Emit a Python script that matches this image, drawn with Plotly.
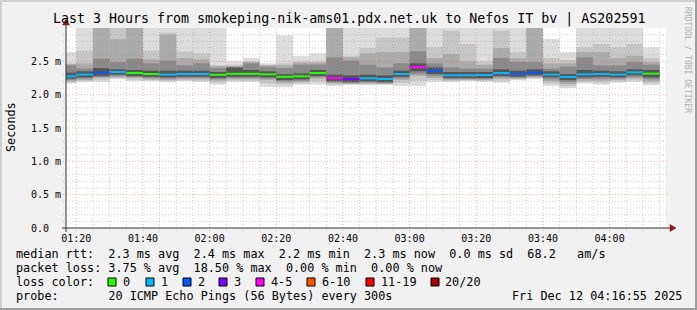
import plotly.graph_objects as go
import pandas as pd

DAY = "2025-12-12 "
RANGE_START = "01:16:55"
RANGE_END = "04:16:55"

# 5-minute bins (start times)
bin_start = ["01:15", "01:20", "01:25", "01:30", "01:35", "01:40", "01:45", "01:50", "01:55",
             "02:00", "02:05", "02:10", "02:15", "02:20", "02:25", "02:30", "02:35", "02:40",
             "02:45", "02:50", "02:55", "03:00", "03:05", "03:10", "03:15", "03:20", "03:25",
             "03:30", "03:35", "03:40", "03:45", "03:50", "03:55", "04:00", "04:05", "04:10"]

# median rtt (ms)
median_ms = [2.275, 2.301, 2.331, 2.340, 2.325, 2.310, 2.301, 2.310, 2.310, 2.298, 2.313, 2.313,
             2.305, 2.268, 2.275, 2.325, 2.249, 2.235, 2.246, 2.235, 2.310, 2.415, 2.361, 2.290,
             2.290, 2.295, 2.325, 2.310, 2.331, 2.301, 2.265, 2.305, 2.310, 2.301, 2.335, 2.316]

# lost pings per bin (of 20)
loss_pings = [1, 1, 2, 1, 0, 0, 1, 1, 1, 0, 0, 0, 0, 0, 0, 0, 4, 3,
              1, 1, 1, 4, 2, 1, 1, 1, 1, 2, 2, 1, 1, 1, 1, 1, 1, 0]

# smoke band edges (ms), outer -> inner
smoke_top = [2.64, 3.05, 3.05, 3.05, 3.05, 3.05, 3.05, 3.05, 3.05, 3.05, 2.50, 2.55,
             2.47, 2.89, 2.58, 2.62, 3.05, 3.05, 3.05, 3.05, 3.05, 3.05, 3.05, 3.05,
             3.05, 3.05, 3.05, 3.05, 3.05, 2.84, 2.64, 3.05, 3.05, 3.05, 3.05, 2.71]
smoke_b_top = [2.47, 2.66, 3.05, 3.05, 3.05, 2.66, 2.93, 2.65, 2.62, 2.44, 2.45, 2.50,
               2.45, 2.47, 2.50, 2.50, 3.05, 2.58, 2.70, 2.86, 2.86, 3.05, 2.71, 2.96,
               2.76, 2.50, 2.96, 2.64, 3.05, 2.55, 2.52, 2.71, 2.76, 2.71, 2.76, 2.55]
smoke_c_top = [2.46, 2.47, 3.05, 2.83, 3.05, 2.53, 2.90, 2.55, 2.53, 2.43, 2.43, 2.49,
               2.44, 2.44, 2.48, 2.48, 3.05, 2.56, 2.62, 2.64, 2.64, 3.05, 2.55, 2.61,
               2.50, 2.45, 2.70, 2.55, 3.05, 2.47, 2.47, 2.64, 2.64, 2.55, 2.58, 2.49]
smoke_d_top = [2.44, 2.39, 2.54, 2.49, 2.54, 2.47, 2.51, 2.44, 2.47, 2.40, 2.41, 2.47,
               2.42, 2.40, 2.45, 2.45, 2.56, 2.51, 2.45, 2.41, 2.47, 2.65, 2.47, 2.41,
               2.39, 2.39, 2.55, 2.49, 2.49, 2.39, 2.42, 2.56, 2.44, 2.44, 2.49, 2.45]
core_top = [2.33, 2.35, 2.40, 2.38, 2.37, 2.36, 2.36, 2.36, 2.36, 2.34, 2.41, 2.37,
            2.35, 2.31, 2.32, 2.37, 2.30, 2.29, 2.30, 2.29, 2.36, 2.47, 2.41, 2.34,
            2.34, 2.34, 2.38, 2.36, 2.38, 2.35, 2.31, 2.37, 2.36, 2.35, 2.38, 2.37]
core_bottom = [2.24, 2.26, 2.28, 2.30, 2.28, 2.27, 2.26, 2.27, 2.27, 2.25, 2.27, 2.27,
               2.26, 2.22, 2.23, 2.28, 2.20, 2.19, 2.20, 2.19, 2.27, 2.35, 2.31, 2.25,
               2.25, 2.25, 2.28, 2.27, 2.29, 2.26, 2.22, 2.26, 2.27, 2.26, 2.29, 2.26]
smoke_d_bottom = [2.22, 2.24, 2.265, 2.28, 2.265, 2.25, 2.24, 2.25, 2.25, 2.23, 2.25, 2.25,
                  2.24, 2.20, 2.21, 2.26, 2.185, 2.175, 2.185, 2.175, 2.245, 2.31, 2.28, 2.235,
                  2.235, 2.235, 2.26, 2.255, 2.275, 2.23, 2.19, 2.235, 2.24, 2.24, 2.265, 2.23]
smoke_c_bottom = [2.20, 2.22, 2.25, 2.26, 2.25, 2.23, 2.22, 2.23, 2.23, 2.21, 2.23, 2.23,
                  2.22, 2.18, 2.19, 2.24, 2.17, 2.16, 2.17, 2.16, 2.22, 2.28, 2.25, 2.22,
                  2.22, 2.22, 2.24, 2.24, 2.26, 2.20, 2.16, 2.21, 2.21, 2.22, 2.24, 2.20]
smoke_b_bottom = [2.18, 2.205, 2.22, 2.245, 2.225, 2.215, 2.205, 2.215, 2.21, 2.18, 2.21, 2.21,
                  2.165, 2.15, 2.17, 2.195, 2.15, 2.155, 2.155, 2.155, 2.175, 2.205, 2.22, 2.205,
                  2.21, 2.205, 2.21, 2.228, 2.245, 2.165, 2.13, 2.19, 2.18, 2.20, 2.215, 2.17]
smoke_bottom = [2.166, 2.19, 2.19, 2.23, 2.20, 2.20, 2.19, 2.20, 2.19, 2.15, 2.19, 2.19,
                2.115, 2.115, 2.15, 2.15, 2.13, 2.15, 2.14, 2.15, 2.13, 2.13, 2.19, 2.19,
                2.20, 2.19, 2.18, 2.215, 2.23, 2.13, 2.10, 2.166, 2.15, 2.18, 2.19, 2.14]

loss_labels = ["0", "1", "2", "3", "4-5", "6-10", "11-19", "20/20"]
loss_colors = ["#26ff00", "#00b8ff", "#0059ff", "#7e00ff", "#ff00ff", "#ff5500", "#ff0000", "#a00000"]
loss_upper = [0, 1, 2, 3, 5, 10, 19, 20]

y_tick_vals = [0.0, 0.5, 1.0, 1.5, 2.0, 2.5]
y_tick_text = ["0.0\u00a0\u00a0", "0.5 m", "1.0 m", "1.5 m", "2.0 m", "2.5 m"]
x_tick_vals = ["01:20", "01:40", "02:00", "02:20", "02:40", "03:00", "03:20", "03:40", "04:00"]

title_text = "Last 3 Hours from smokeping-nik-ams01.pdx.net.uk to Nefos IT bv | AS202591"
legend_lines = [
    "median rtt:  2.3 ms avg  2.4 ms max  2.2 ms min  2.3 ms now  0.0 ms sd  68.2   am/s",
    "packet loss: 3.75 % avg  18.50 % max  0.00 % min  0.00 % now",
    "loss color:",
    "probe:       20 ICMP Echo Pings (56 Bytes) every 300s",
]
stamp_text = "Fri Dec 12 04:16:55 2025"

# ---------------- geometry helpers (pixel -> paper) ----------------
L, T, W, H = 66, 28, 600, 200
def px(x):
    return (x - L) / W
def py(y):
    return (T + H - y) / H

MONO = "DejaVu Sans Mono"

starts = pd.to_datetime([DAY + s for s in bin_start])
ends = starts + pd.Timedelta(minutes=5)
centers = starts + pd.Timedelta(minutes=2.5)
BIN_MS = 5 * 60 * 1000

fig = go.Figure()

bands = [
    (smoke_bottom, smoke_top, "#dcdcdc"),
    (smoke_b_bottom, smoke_b_top, "#c6c6c6"),
    (smoke_c_bottom, smoke_c_top, "#ababab"),
    (smoke_d_bottom, smoke_d_top, "#8a8a8a"),
    (core_bottom, core_top, "#555555"),
]
for lo, hi, col in bands:
    fig.add_trace(go.Bar(
        x=centers, base=lo, y=[h - l for l, h in zip(lo, hi)], width=BIN_MS,
        marker=dict(color=col, line=dict(width=0)), hoverinfo="skip", showlegend=False))

def loss_class(n):
    for i, u in enumerate(loss_upper):
        if n <= u:
            return i
    return len(loss_upper) - 1

for ci, col in enumerate(loss_colors):
    xs, ys = [], []
    for s, e, m, n in zip(starts, ends, median_ms, loss_pings):
        if loss_class(n) == ci:
            xs += [s, e, None]
            ys += [m, m, None]
    if xs:
        fig.add_trace(go.Scatter(x=xs, y=ys, mode="lines", line=dict(color=col, width=2),
                                 hoverinfo="skip", showlegend=False))

shapes = []
# grid (drawn above the smoke, as rrdtool does)
minor_col = "rgba(150,150,150,0.45)"
major_col = "rgba(235,60,60,0.40)"
for i in range(1, 30):
    v = i / 10
    major = (i % 5 == 0)
    shapes.append(dict(type="line", xref="paper", yref="y", x0=px(63), x1=px(668), y0=v, y1=v,
                       line=dict(color=major_col if major else minor_col, width=1, dash="1px,2px"),
                       layer="above"))
grid_times = pd.date_range(DAY + "01:20", DAY + "04:15", freq="5min")
for t in grid_times:
    major = (t.minute % 20 == 0)
    shapes.append(dict(type="line", xref="x", yref="paper", x0=t, x1=t, y0=py(231), y1=1,
                       line=dict(color=major_col if major else minor_col, width=1, dash="1px,2px"),
                       layer="above"))
# axes with arrows
axis_col = "#303030"
arrow_col = "#8c1a1a"
shapes.append(dict(type="line", xref="paper", yref="paper", x0=px(62), x1=px(671), y0=py(228), y1=py(228),
                   line=dict(color=axis_col, width=1), layer="above"))
shapes.append(dict(type="line", xref="paper", yref="paper", x0=px(66), x1=px(66), y0=py(232), y1=py(24),
                   line=dict(color=axis_col, width=1), layer="above"))
shapes.append(dict(type="path", xref="paper", yref="paper",
                   path=f"M {px(670)} {py(224.5)} L {px(676)} {py(228)} L {px(670)} {py(231.5)} Z",
                   fillcolor=arrow_col, line=dict(color=arrow_col, width=0.5), layer="above"))
shapes.append(dict(type="path", xref="paper", yref="paper",
                   path=f"M {px(62.5)} {py(25)} L {px(66)} {py(19)} L {px(69.5)} {py(25)} Z",
                   fillcolor=arrow_col, line=dict(color=arrow_col, width=0.5), layer="above"))
# frame
shapes.append(dict(type="line", xref="paper", yref="paper", x0=px(0), x1=px(697), y0=py(1), y1=py(1),
                   line=dict(color="#cfcfcf", width=2)))
shapes.append(dict(type="line", xref="paper", yref="paper", x0=px(1), x1=px(1), y0=py(0), y1=py(310),
                   line=dict(color="#cfcfcf", width=2)))
shapes.append(dict(type="line", xref="paper", yref="paper", x0=px(0), x1=px(697), y0=py(309), y1=py(309),
                   line=dict(color="#9e9e9e", width=2)))
shapes.append(dict(type="line", xref="paper", yref="paper", x0=px(696), x1=px(696), y0=py(0), y1=py(310),
                   line=dict(color="#9e9e9e", width=2)))

annotations = []
annotations.append(dict(text=title_text, xref="paper", yref="paper", x=px(348.5), y=py(19),
                        xanchor="center", yanchor="middle", showarrow=False,
                        font=dict(family=MONO, size=13.3, color="#000000")))
annotations.append(dict(text="Seconds", xref="paper", yref="paper", x=px(11), y=py(127),
                        xanchor="center", yanchor="middle", showarrow=False, textangle=-90,
                        font=dict(family=MONO, size=11.8, color="#000000")))
annotations.append(dict(text="RRDTOOL / TOBI OETIKER", xref="paper", yref="paper", x=px(688), y=py(60),
                        xanchor="center", yanchor="middle", showarrow=False, textangle=90,
                        font=dict(family=MONO, size=8, color="#b0b0b0")))
line_y = [254, 268, 282, 296]
for txt, yy in zip(legend_lines, line_y):
    annotations.append(dict(text=txt.replace(" ", "\u00a0"), xref="paper", yref="paper",
                            x=px(15.5), y=py(yy), xanchor="left", yanchor="middle", showarrow=False,
                            borderpad=0, borderwidth=0,
                            font=dict(family=MONO, size=11.8, color="#000000")))
annotations.append(dict(text=stamp_text.replace(" ", "\u00a0"), xref="paper", yref="paper",
                        x=px(682), y=py(296), xanchor="right", yanchor="middle", showarrow=False,
                        borderpad=0, borderwidth=0,
                        font=dict(family=MONO, size=11.8, color="#000000")))
# loss colour legend
sq_x = [108, 146, 183, 219, 256, 307, 366, 431]
for lab, col, sx in zip(loss_labels, loss_colors, sq_x):
    shapes.append(dict(type="rect", xref="paper", yref="paper", x0=px(sx), x1=px(sx + 8),
                       y0=py(286), y1=py(278), fillcolor=col, line=dict(color="#000000", width=1)))
    annotations.append(dict(text=lab, xref="paper", yref="paper", x=px(sx + 14.5), y=py(282),
                            xanchor="left", yanchor="middle", showarrow=False, borderpad=0, borderwidth=0,
                            font=dict(family=MONO, size=11.8, color="#000000")))

fig.update_layout(
    width=697, height=310,
    margin=dict(l=L, r=697 - L - W, t=T, b=310 - T - H, pad=0),
    paper_bgcolor="#f1f1f1", plot_bgcolor="#ffffff",
    barmode="overlay", showlegend=False,
    font=dict(family=MONO, color="#000000"),
    shapes=shapes, annotations=annotations,
    xaxis=dict(type="date", range=[DAY + RANGE_START, DAY + RANGE_END],
               tickvals=[DAY + t for t in x_tick_vals], ticktext=x_tick_vals,
               showgrid=False, zeroline=False, showline=False, ticks="",
               tickfont=dict(family=MONO, size=10, color="#000000"), ticklabelstandoff=3),
    yaxis=dict(range=[0, 3.0], tickvals=y_tick_vals, ticktext=y_tick_text,
               showgrid=False, zeroline=False, showline=False, ticks="",
               tickfont=dict(family=MONO, size=10, color="#000000"), ticklabelstandoff=4),
)

fig.write_html("out.html")
